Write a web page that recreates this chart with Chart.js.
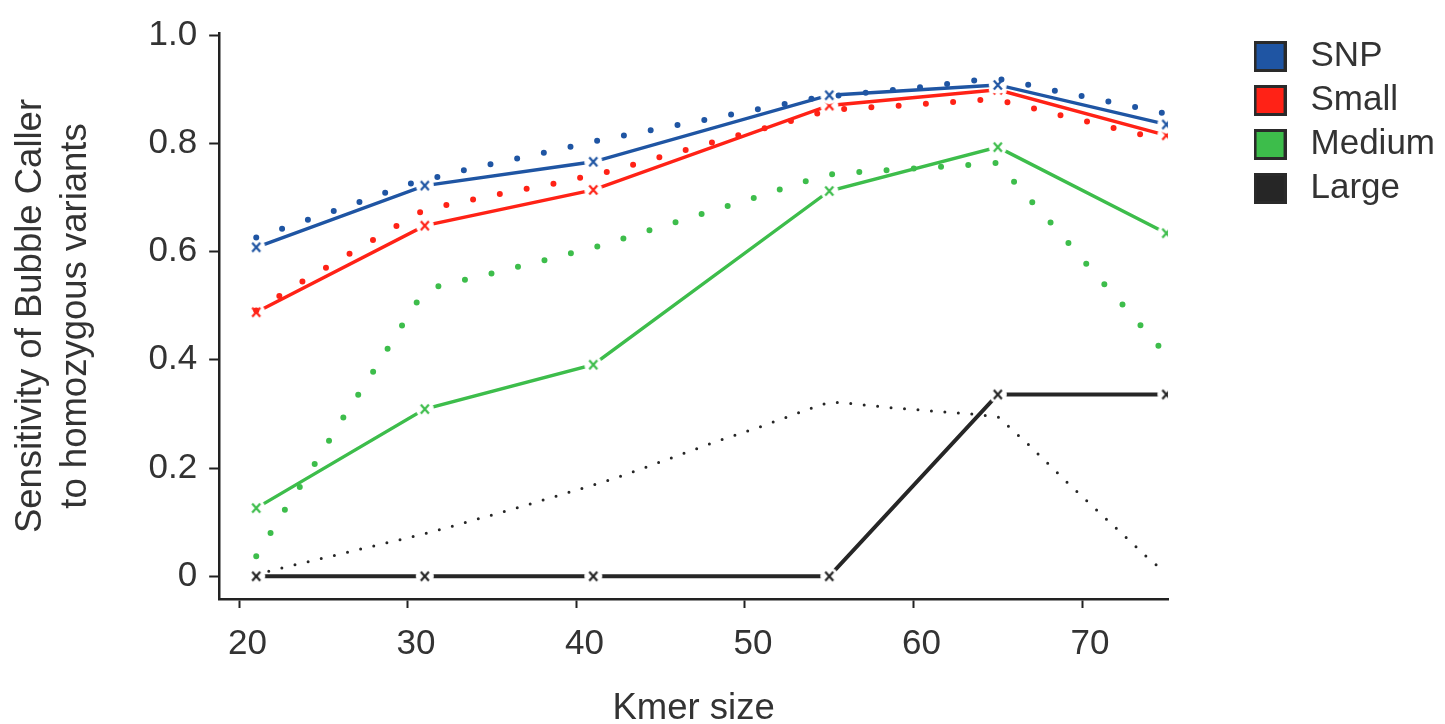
<!DOCTYPE html>
<html>
<head>
<meta charset="utf-8">
<script src="https://cdn.jsdelivr.net/npm/chart.js@4.4.1/dist/chart.umd.min.js"></script>
<style>
  body { margin: 0; background: #fff; }
  .chart-container { position: relative; width: 1445px; height: 724px; }
</style>
</head>
<body>
<div class="chart-container"><canvas id="myChart"></canvas></div>
<script>
// measured kmer sizes and sensitivities (solid lines with x markers)
const KMERS = [21, 31, 41, 55, 65, 75];
const SNP = [0.608, 0.722, 0.766, 0.889, 0.908, 0.835];
const SMALL = [0.488, 0.648, 0.714, 0.870, 0.899, 0.815];
const MEDIUM = [0.126, 0.309, 0.391, 0.712, 0.793, 0.634];
const LARGE = [0, 0, 0, 0, 0.336, 0.336];

// smoothed curves (dotted)
const SNP_FIT_X = [21, 25.6, 30.2, 33.4, 36.6, 39.7, 41.4, 44.5, 47.7, 50.9, 54.2, 57.3, 60.5, 63.8, 65.4, 68.6, 71.8, 75];
const SNP_FIT_Y = [0.626, 0.675, 0.726, 0.751, 0.773, 0.794, 0.806, 0.825, 0.844, 0.864, 0.884, 0.894, 0.904, 0.917, 0.918, 0.896, 0.876, 0.855];
const SMALL_FIT_X = [21, 23.8, 26.6, 29.4, 30.8, 32.4, 35.5, 38.7, 41.9, 45.0, 48.2, 51.4, 54.4, 56.0, 59.3, 62.6, 64.2, 65.8, 69.0, 72.2, 75];
const SMALL_FIT_Y = [0.491, 0.546, 0.597, 0.649, 0.674, 0.687, 0.707, 0.726, 0.748, 0.775, 0.803, 0.830, 0.856, 0.864, 0.870, 0.877, 0.881, 0.875, 0.850, 0.826, 0.805];
const MEDIUM_FIT_X = [21, 22.7, 24.5, 26.2, 28.0, 29.7, 30.6, 31.8, 35.0, 38.1, 41.3, 44.4, 47.5, 50.6, 53.7, 55.3, 58.6, 61.8, 65.0, 66.1, 68.3, 70.4, 72.6, 74.7, 75];
const MEDIUM_FIT_Y = [0.037, 0.123, 0.209, 0.295, 0.381, 0.466, 0.510, 0.536, 0.560, 0.584, 0.610, 0.640, 0.670, 0.700, 0.731, 0.744, 0.751, 0.757, 0.764, 0.724, 0.648, 0.572, 0.495, 0.420, 0.410];
const LARGE_FIT_X = [21, 21.8, 26.5, 31.3, 36.0, 42.2, 45.3, 48.3, 50.7, 53.0, 54.5, 55.2, 56.0, 58.5, 60.9, 63.4, 65.0, 65.6, 66.8, 69.1, 71.5, 73.9, 75];
const LARGE_FIT_Y = [0.0, 0.010, 0.045, 0.081, 0.122, 0.180, 0.215, 0.249, 0.274, 0.300, 0.317, 0.322, 0.320, 0.312, 0.306, 0.300, 0.295, 0.278, 0.244, 0.174, 0.104, 0.034, 0.005];

const SERIES_NAMES = ['SNP', 'Small', 'Medium', 'Large'];
const X_TICKS = [20, 30, 40, 50, 60, 70];
const Y_TICKS = [0, 0.2, 0.4, 0.6, 0.8, 1.0];

const COLORS = ['#1f55a3', '#ff2216', '#3dbd4b', '#262626'];
const TEXT = '#333333';
const FONT = 'Liberation Sans, Arial, sans-serif';

function zip(xs, ys) {
    return xs.map((x, i) => ({ x: x, y: ys[i] }));
}

// white disc with a small "x", so the line stops short of each point
function makeMarker(color) {
    const c = document.createElement('canvas');
    c.width = 20; c.height = 20;
    const g = c.getContext('2d');
    g.fillStyle = '#fff';
    g.beginPath(); g.arc(10, 10, 9, 0, Math.PI * 2); g.fill();
    g.strokeStyle = color; g.lineWidth = 2.2;
    g.beginPath();
    g.moveTo(6, 5.5); g.lineTo(14, 14.5);
    g.moveTo(14, 5.5); g.lineTo(6, 14.5);
    g.stroke();
    return c;
}

function makeSwatch(color) {
    const c = document.createElement('canvas');
    c.width = 33; c.height = 31;
    const g = c.getContext('2d');
    g.fillStyle = '#2a2a2a'; g.fillRect(0, 0, 33, 31);
    g.fillStyle = color; g.fillRect(3, 3, 27, 25);
    return c;
}

const solid = [SNP, SMALL, MEDIUM, LARGE];
const fitX = [SNP_FIT_X, SMALL_FIT_X, MEDIUM_FIT_X, LARGE_FIT_X];
const fitY = [SNP_FIT_Y, SMALL_FIT_Y, MEDIUM_FIT_Y, LARGE_FIT_Y];

let datasets = [];
solid.forEach((vals, i) => {
    datasets.push({
        label: SERIES_NAMES[i],
        data: zip(KMERS, vals),
        borderColor: COLORS[i],
        borderWidth: i === 3 ? 4 : 3.4,
        pointStyle: makeMarker(COLORS[i]),
        pointRadius: 10,
        tension: 0,
        order: 1,
    });
});
fitX.forEach((xs, i) => {
    const big = i !== 3;
    datasets.push({
        label: SERIES_NAMES[i] + ' fit',
        data: zip(xs, fitY[i]),
        borderColor: COLORS[i],
        borderWidth: big ? 6 : 3,
        borderDash: big ? [0, 27.3] : [0, 13.5],
        borderCapStyle: 'round',
        pointRadius: 0,
        tension: 0,
        order: 0,
    });
});

const swatches = COLORS.map(makeSwatch);

const CONFIG = {
    type: 'line',
    data: { datasets },
    options: {
        responsive: true,
        maintainAspectRatio: false,
        animation: false,
        layout: { padding: { top: 30, left: 8.5, right: 0, bottom: 0 } },
        plugins: {
            tooltip: { enabled: false },
            legend: {
                position: 'right',
                align: 'start',
                labels: {
                    usePointStyle: true,
                    pointStyleWidth: 46,
                    padding: 9,
                    color: TEXT,
                    font: { family: FONT, size: 35 },
                    generateLabels: () => SERIES_NAMES.map((name, i) => ({
                        text: name,
                        pointStyle: swatches[i],
                        fillStyle: COLORS[i],
                        strokeStyle: 'transparent',
                        lineWidth: 0,
                        fontColor: TEXT,
                        hidden: false,
                        datasetIndex: i,
                    })),
                },
            },
        },
        scales: {
            x: {
                type: 'linear',
                min: 18.8,
                max: 75.1,
                afterBuildTicks: (s) => { s.ticks = X_TICKS.map(v => ({ value: v })); },
                grid: { drawOnChartArea: false, tickLength: 9, tickWidth: 2, tickColor: '#222' },
                border: { color: '#222', width: 2.5 },
                ticks: { color: TEXT, padding: 15, labelOffset: 8, font: { family: FONT, size: 35 } },
                title: {
                    display: true, text: 'Kmer size', color: TEXT,
                    font: { family: FONT, size: 36.5, lineHeight: 0.8 },
                    padding: { top: 14.8, bottom: 0 },
                },
            },
            y: {
                type: 'linear',
                min: -0.042,
                max: 1.004,
                afterBuildTicks: (s) => { s.ticks = Y_TICKS.map(v => ({ value: v })); },
                grid: { drawOnChartArea: false, tickLength: 10, tickWidth: 2, tickColor: '#222' },
                border: { color: '#222', width: 2.5 },
                ticks: {
                    color: TEXT, padding: 12, font: { family: FONT, size: 35 },
                    callback: (v) => v === 0 ? '0' : v.toFixed(1),
                },
                title: {
                    display: true,
                    text: ['Sensitivity of Bubble Caller', 'to homozygous variants'],
                    color: TEXT,
                    font: { family: FONT, size: 36.5, lineHeight: 1.233 },
                    padding: { top: 0, bottom: 38 },
                },
            },
            // empty spacer between the plot and the legend
            gap: {
                type: 'linear',
                position: 'right',
                display: true,
                grid: { display: false },
                border: { display: false },
                ticks: { display: false },
                afterFit: (s) => { s.width = 70; },
            },
        },
    },
};

const CTX = document.getElementById('myChart').getContext('2d');
let chart = new Chart(CTX, CONFIG);
</script>
</body>
</html>
